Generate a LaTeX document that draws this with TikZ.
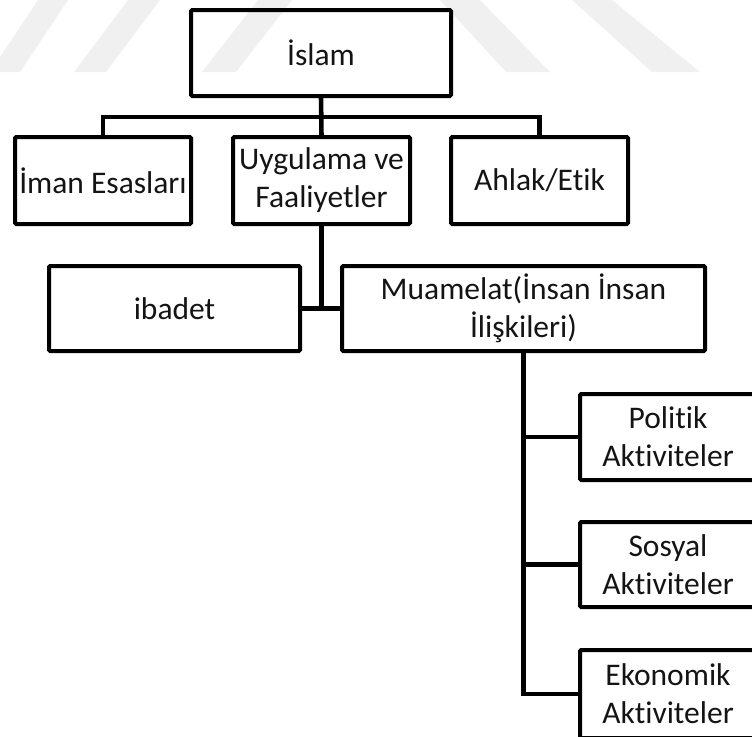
\documentclass[tikz,border=0pt]{standalone}
\usepackage{fontspec}
\setmainfont{Carlito}[Ligatures={NoCommon,NoContextual}]
\begin{document}
\begin{tikzpicture}[x=1pt,y=-1pt,
  box/.style={draw=black, line width=4pt, rounded corners=1.2pt, inner sep=0pt, outer sep=0pt,
    align=center, text=black!92, font=\fontsize{31.5}{38}\selectfont},
  conn/.style={draw=black, line width=4.6pt, line join=miter, line cap=butt},
  wm/.style={fill=black!6, draw=none}]
\useasboundingbox (0,0) rectangle (752,736);
\begin{scope}
\clip (0,0) rectangle (752,736);
% faint watermark bands
\fill[wm] (38,0) -- (68,0) -- (20,72) -- (-10,72) -- cycle;
\fill[wm] (128,0) -- (160,0) -- (106,72) -- (74,72) -- cycle;
\fill[wm] (258,0) -- (292,0) -- (236,72) -- (202,72) -- cycle;
\fill[wm] (440,0) -- (480,0) -- (550,72) -- (506,72) -- cycle;
\fill[wm] (572,0) -- (612,0) -- (700,72) -- (652,72) -- cycle;

% boxes
\node[box, minimum width=260pt, minimum height=86pt] (islam) at (321,53) {İslam};
\node[box, minimum width=176pt, minimum height=87pt] (iman) at (103,180.5) {İman Esasları};
\node[box, minimum width=177pt, minimum height=87pt] (uyg) at (321.5,180.5) {Uygulama ve\\Faaliyetler};
\node[box, minimum width=177pt, minimum height=87pt] (ahlak) at (539.5,180.5) {Ahlak/Etik};
\node[box, minimum width=251pt, minimum height=85pt] (ibadet) at (174.5,308.5) {ibadet};
\node[box, minimum width=363pt, minimum height=85pt] (muam) at (523.5,308.5) {Muamelat(İnsan İnsan\\İlişkileri)};
\node[box, minimum width=176pt, minimum height=86pt] (pol) at (668,437) {Politik\\Aktiviteler};
\node[box, minimum width=176pt, minimum height=85pt] (sos) at (668,564.5) {Sosyal\\Aktiviteler};
\node[box, minimum width=176pt, minimum height=88pt] (eko) at (668,694) {Ekonomik\\Aktiviteler};

% connectors
\coordinate (bus) at (321,117);
\draw[conn] (islam.south) -- (uyg.north);
\draw[conn] (iman.north) -- (iman.north |- bus) -- (ahlak.north |- bus) -- (ahlak.north);
\draw[conn] (uyg.south) -- (uyg.south |- ibadet.east);
\draw[conn] (ibadet.east) -- (muam.west);
\draw[conn] (muam.south) -- (muam.south |- eko.west) -- (eko.west);
\draw[conn] (muam.south |- pol.west) -- (pol.west);
\draw[conn] (muam.south |- sos.west) -- (sos.west);
\end{scope}
\end{tikzpicture}
\end{document}
